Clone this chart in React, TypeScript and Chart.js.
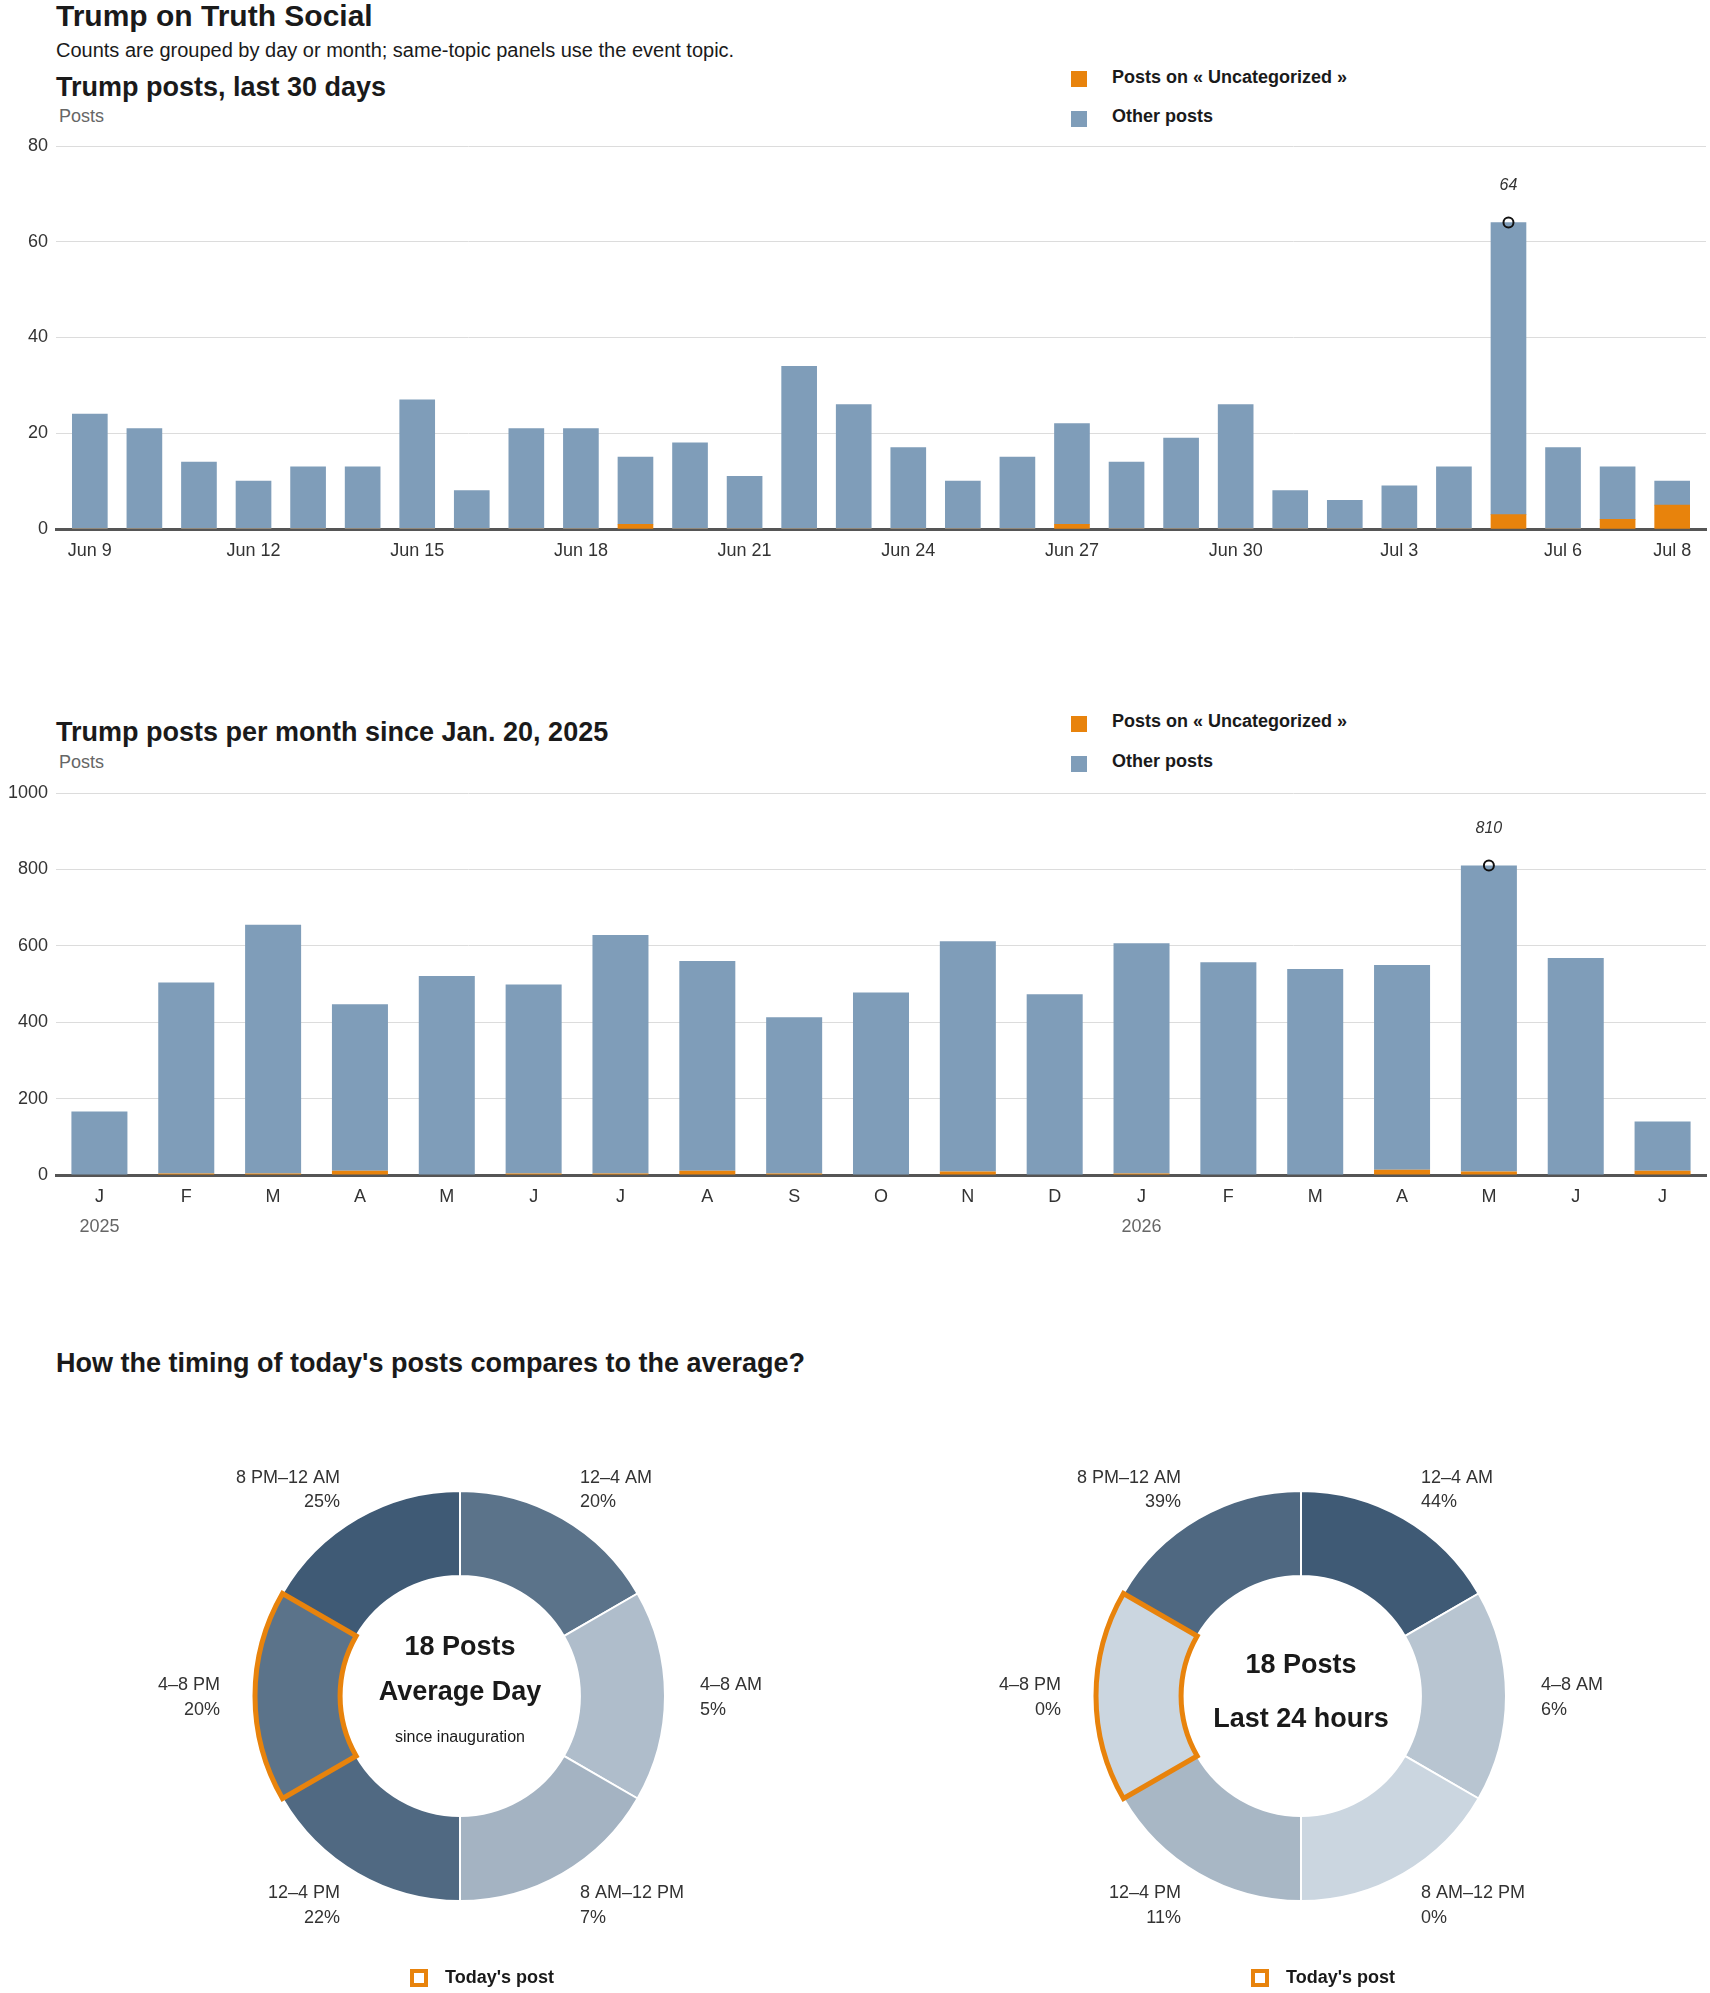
import React, { useEffect, useRef } from 'react';
import { Chart, registerables } from 'chart.js';

Chart.register(...registerables);

const SANS = '"Liberation Sans", Arial, Helvetica, sans-serif';
const NARROW = '"Liberation Sans Narrow", "Liberation Sans", Arial, sans-serif';
const INK = '#1a1a1a';
const TICK = '#333';
const MUTED = '#666';
const BLUE = '#7f9db9';
const ORANGE = '#e8830c';
const GRID = '#dcdcdc';

// ---- last 30 days (daily counts)
const dayLabels = [
  'Jun 9', 'Jun 10', 'Jun 11', 'Jun 12', 'Jun 13', 'Jun 14', 'Jun 15', 'Jun 16', 'Jun 17', 'Jun 18',
  'Jun 19', 'Jun 20', 'Jun 21', 'Jun 22', 'Jun 23', 'Jun 24', 'Jun 25', 'Jun 26', 'Jun 27', 'Jun 28',
  'Jun 29', 'Jun 30', 'Jul 1', 'Jul 2', 'Jul 3', 'Jul 4', 'Jul 5', 'Jul 6', 'Jul 7', 'Jul 8',
];
const dayTickIdx = [0, 3, 6, 9, 12, 15, 18, 21, 24, 27, 29];
const dayUncategorized = [0, 0, 0, 0, 0, 0, 0, 0, 0, 0, 1, 0, 0, 0, 0, 0, 0, 0, 1, 0, 0, 0, 0, 0, 0, 0, 3, 0, 2, 5];
const dayOther = [24, 21, 14, 10, 13, 13, 27, 8, 21, 21, 14, 18, 11, 34, 26, 17, 10, 15, 21, 14, 19, 26, 8, 6, 9, 13, 61, 17, 11, 5];
const dayTicksY = [0, 20, 40, 60, 80];

// ---- per month since inauguration
const monthLabels = ['J', 'F', 'M', 'A', 'M', 'J', 'J', 'A', 'S', 'O', 'N', 'D', 'J', 'F', 'M', 'A', 'M', 'J', 'J'];
const yearLabels = ['2025', '2026'];
const yearStartIdx = [0, 12];
const monthUncategorized = [0, 4, 4, 11, 0, 4, 4, 11, 4, 0, 9, 0, 4, 0, 0, 14, 9, 0, 11];
const monthOther = [166, 500, 651, 436, 521, 495, 624, 549, 409, 478, 603, 473, 603, 557, 539, 536, 801, 568, 129];
const monthTicksY = [0, 200, 400, 600, 800, 1000];

// ---- timing of posts
const timeSlots = ['12–4 AM', '4–8 AM', '8 AM–12 PM', '12–4 PM', '4–8 PM', '8 PM–12 AM'];
const slotHours = [4, 4, 4, 4, 4, 4];
const avgShare = [20, 5, 7, 22, 20, 25];
const todayShare = [44, 6, 0, 11, 0, 39];
const todaySlot = 4;

// light -> dark ramp used for the slices
const LOW = [203, 214, 224];
const HIGH = [63, 90, 117];
const shade = (p: number, max: number) => {
  const t = max ? p / max : 0;
  return `rgb(${LOW.map((c, k) => Math.round(c + (HIGH[k] - c) * t)).join(',')})`;
};

const yOf = (p: any) => (typeof p === 'number' ? p : p.y);

// circle + italic value on top of the tallest stacked bar
const peakPlugin = {
  id: 'peak',
  afterDatasetsDraw(chart: any) {
    const sets = chart.data.datasets;
    const totals = sets[0].data.map((_: any, i: number) => sets.reduce((s: number, d: any) => s + yOf(d.data[i]), 0));
    const idx = totals.indexOf(Math.max(...totals));
    const el = chart.getDatasetMeta(sets.length - 1).data[idx];
    if (!el) return;
    const { ctx } = chart;
    ctx.save();
    ctx.beginPath();
    ctx.arc(el.x, el.y, 5, 0, Math.PI * 2);
    ctx.lineWidth = 2;
    ctx.strokeStyle = '#111';
    ctx.stroke();
    ctx.font = `italic 16px ${NARROW}`;
    ctx.fillStyle = '#333';
    ctx.textAlign = 'center';
    ctx.textBaseline = 'middle';
    ctx.fillText(String(totals[idx]), el.x, el.y - 37);
    ctx.restore();
  },
};

const yearPlugin = {
  id: 'years',
  afterDraw(chart: any) {
    const { ctx } = chart;
    const x = chart.scales.x;
    ctx.save();
    ctx.font = `18px ${SANS}`;
    ctx.fillStyle = MUTED;
    ctx.textAlign = 'center';
    ctx.textBaseline = 'middle';
    yearLabels.forEach((label, i) => {
      ctx.fillText(label, x.getPixelForValue(yearStartIdx[i]), chart.chartArea.bottom + 52);
    });
    ctx.restore();
  },
};

const tickFont = { family: SANS, size: 18 };

const yAxis = (max: number, ticks: number[]) => ({
  min: 0,
  max,
  stacked: true,
  afterFit: (s: any) => { s.width = 56; },
  afterBuildTicks: (s: any) => { s.ticks = ticks.map((v) => ({ value: v })); },
  grid: { color: GRID, lineWidth: 1, drawTicks: false },
  border: { display: false },
  ticks: { padding: 8, color: TICK, font: tickFont, callback: (v: any) => String(v) },
});

const buildDaily = (canvas: HTMLCanvasElement) =>
  new Chart(canvas, {
    type: 'bar',
    data: {
      datasets: [
        { label: 'Posts on « Uncategorized »', data: dayUncategorized.map((v, i) => ({ x: i, y: v })), backgroundColor: ORANGE },
        { label: 'Other posts', data: dayOther.map((v, i) => ({ x: i, y: v })), backgroundColor: BLUE },
      ],
    },
    options: {
      animation: false,
      responsive: false,
      events: [],
      barThickness: 35,
      layout: { padding: { top: 46, right: 4, bottom: 0, left: 0 } },
      plugins: { legend: { display: false }, tooltip: { enabled: false } },
      scales: {
        x: {
          type: 'linear',
          offset: false,
          min: -0.62,
          max: 29.62,
          stacked: true,
          z: 1,
          afterFit: (s: any) => { s.height = 41; },
          afterBuildTicks: (s: any) => { s.ticks = dayTickIdx.map((v) => ({ value: v })); },
          grid: { display: false },
          border: { display: true, color: '#555', width: 3 },
          ticks: {
            autoSkip: false,
            maxRotation: 0,
            padding: 3,
            color: TICK,
            font: tickFont,
            callback: (v: any) => dayLabels[v] ?? '',
          },
        },
        y: yAxis(80, dayTicksY),
      },
    } as any,
    plugins: [peakPlugin],
  });

const buildMonthly = (canvas: HTMLCanvasElement) =>
  new Chart(canvas, {
    type: 'bar',
    data: {
      labels: monthLabels,
      datasets: [
        { label: 'Posts on « Uncategorized »', data: monthUncategorized, backgroundColor: ORANGE },
        { label: 'Other posts', data: monthOther, backgroundColor: BLUE },
      ],
    },
    options: {
      animation: false,
      responsive: false,
      events: [],
      barPercentage: 0.645,
      categoryPercentage: 1,
      layout: { padding: { top: 43, right: 4, bottom: 34, left: 0 } },
      plugins: { legend: { display: false }, tooltip: { enabled: false } },
      scales: {
        x: {
          stacked: true,
          z: 1,
          afterFit: (s: any) => { s.height = 41; },
          grid: { display: false },
          border: { display: true, color: '#555', width: 3 },
          ticks: { autoSkip: false, maxRotation: 0, padding: 3, color: TICK, font: tickFont },
        },
        y: yAxis(1000, monthTicksY),
      },
    } as any,
    plugins: [peakPlugin, yearPlugin],
  });

type CenterLine = { text: string; dy: number; font: string };

const makeDonutDecor = (shares: number[], lines: CenterLine[]) => ({
  id: 'donutDecor',
  afterDatasetsDraw(chart: any) {
    const { ctx } = chart;
    const arcs = chart.getDatasetMeta(0).data;
    const cx = arcs[0].x;
    const cy = arcs[0].y;
    ctx.save();

    // outline of the slot that holds today's post
    const h = arcs[todaySlot];
    ctx.beginPath();
    ctx.arc(cx, cy, h.outerRadius, h.startAngle, h.endAngle);
    ctx.arc(cx, cy, h.innerRadius, h.endAngle, h.startAngle, true);
    ctx.closePath();
    ctx.lineWidth = 5;
    ctx.lineJoin = 'miter';
    ctx.strokeStyle = ORANGE;
    ctx.stroke();

    // slot labels outside the ring
    ctx.font = `18px ${SANS}`;
    ctx.fillStyle = TICK;
    ctx.textBaseline = 'middle';
    arcs.forEach((a: any, i: number) => {
      const mid = (a.startAngle + a.endAngle) / 2;
      const ax = cx + Math.cos(mid) * 240;
      const ay = cy + Math.sin(mid) * 240;
      ctx.textAlign = Math.cos(mid) >= 0 ? 'left' : 'right';
      ctx.fillText(timeSlots[i], ax, ay - 10.5);
      ctx.fillText(`${shares[i]}%`, ax, ay + 14);
    });

    // centre text
    ctx.textAlign = 'center';
    ctx.fillStyle = INK;
    lines.forEach((l) => {
      ctx.font = l.font;
      ctx.fillText(l.text, cx, cy + l.dy);
    });

    // legend
    ctx.lineWidth = 4;
    ctx.strokeStyle = ORANGE;
    ctx.strokeRect(cx - 48, cy + 275, 14, 14);
    ctx.font = `bold 18px ${SANS}`;
    ctx.fillStyle = INK;
    ctx.textAlign = 'left';
    ctx.fillText("Today's post", cx - 15, cy + 282);
    ctx.restore();
  },
});

const buildDonut = (shares: number[], lines: CenterLine[]) => (canvas: HTMLCanvasElement) => {
  const max = Math.max(...shares);
  return new Chart(canvas, {
    type: 'doughnut',
    data: {
      labels: timeSlots,
      datasets: [
        {
          data: slotHours,
          backgroundColor: shares.map((p) => shade(p, max)),
          borderColor: '#fff',
          borderWidth: 2,
        },
      ],
    },
    options: {
      animation: false,
      responsive: false,
      events: [],
      radius: 205,
      cutout: '58.5%',
      layout: { padding: { top: 35, bottom: 95, left: 195, right: 195 } },
      plugins: { legend: { display: false }, tooltip: { enabled: false } },
    } as any,
    plugins: [makeDonutDecor(shares, lines)],
  });
};

const avgLines: CenterLine[] = [
  { text: '18 Posts', dy: -48, font: `bold 27px ${SANS}` },
  { text: 'Average Day', dy: -3, font: `bold 27px ${SANS}` },
  { text: 'since inauguration', dy: 42, font: `16px ${SANS}` },
];
const todayLines: CenterLine[] = [
  { text: '18 Posts', dy: -30, font: `bold 27px ${SANS}` },
  { text: 'Last 24 hours', dy: 23.5, font: `bold 27px ${SANS}` },
];

const ChartCanvas: React.FC<{ build: (c: HTMLCanvasElement) => Chart; left: number; top: number; width: number; height: number }> = ({
  build, left, top, width, height,
}) => {
  const ref = useRef<HTMLCanvasElement | null>(null);
  useEffect(() => {
    if (!ref.current) return;
    const chart = build(ref.current);
    return () => chart.destroy();
  }, []);
  return <canvas ref={ref} width={width} height={height} style={{ position: 'absolute', left, top, width, height }} />;
};

// text placed by its baseline (Liberation Sans, line-height = font size)
const Txt: React.FC<{ x: number; base: number; size: number; bold?: boolean; color?: string; children: React.ReactNode }> = ({
  x, base, size, bold, color = INK, children,
}) => (
  <div
    style={{
      position: 'absolute',
      left: x,
      top: base - 0.8465 * size,
      fontSize: size,
      lineHeight: `${size}px`,
      fontWeight: bold ? 700 : 400,
      color,
      whiteSpace: 'nowrap',
    }}
  >
    {children}
  </div>
);

const Legend: React.FC<{ top: number }> = ({ top }) => (
  <>
    <div style={{ position: 'absolute', left: 1071, top, width: 16, height: 16, background: ORANGE }} />
    <Txt x={1112} base={top + 12} size={18} bold>Posts on « Uncategorized »</Txt>
    <div style={{ position: 'absolute', left: 1071, top: top + 40, width: 16, height: 16, background: BLUE }} />
    <Txt x={1112} base={top + 51.5} size={18} bold>Other posts</Txt>
  </>
);

export default function App() {
  return (
    <div style={{ position: 'absolute', left: 0, top: 0, width: 1710, height: 1993, fontFamily: SANS, color: INK, background: '#fff' }}>
      <Txt x={56} base={26} size={30} bold>Trump on Truth Social</Txt>
      <Txt x={56} base={57} size={20}>Counts are grouped by day or month; same-topic panels use the event topic.</Txt>

      <Txt x={56} base={96.5} size={27} bold>Trump posts, last 30 days</Txt>
      <Txt x={59} base={122.5} size={18} color={MUTED}>Posts</Txt>
      <Legend top={71} />
      <ChartCanvas build={buildDaily} left={0} top={100} width={1710} height={470} />

      <Txt x={56} base={742} size={27} bold>Trump posts per month since Jan. 20, 2025</Txt>
      <Txt x={59} base={768} size={18} color={MUTED}>Posts</Txt>
      <Legend top={715.5} />
      <ChartCanvas build={buildMonthly} left={0} top={750} width={1710} height={500} />

      <Txt x={56} base={1373} size={27} bold>How the timing of today's posts compares to the average?</Txt>
      <ChartCanvas build={buildDonut(avgShare, avgLines)} left={60} top={1456} width={800} height={540} />
      <ChartCanvas build={buildDonut(todayShare, todayLines)} left={901} top={1456} width={800} height={540} />
    </div>
  );
}
